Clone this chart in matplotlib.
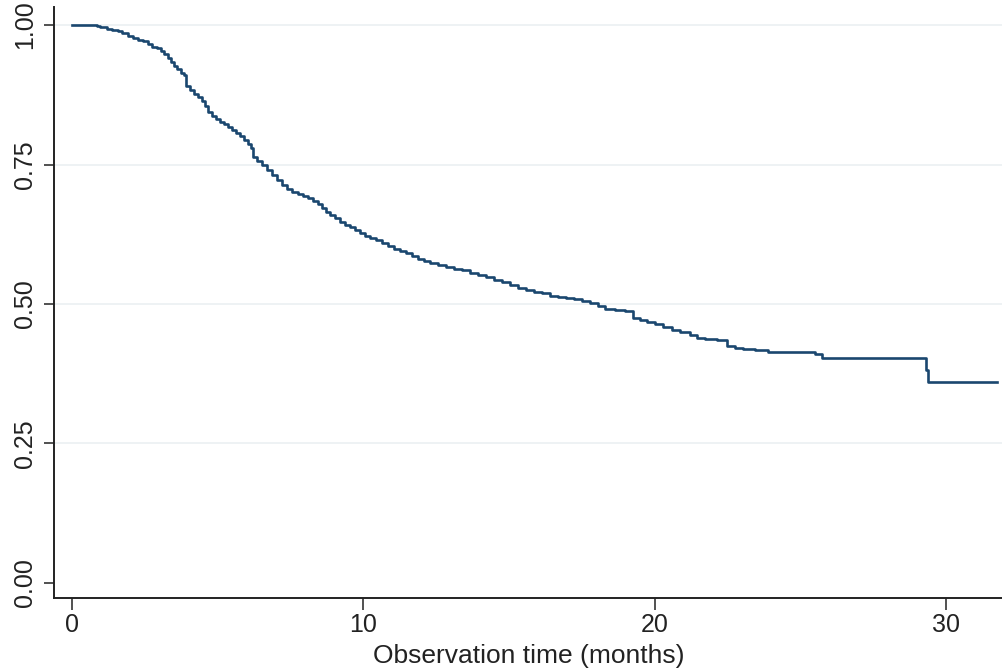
import matplotlib
matplotlib.use("Agg")
import matplotlib.pyplot as plt

# Kaplan-Meier step data (time in months, survival after step)
times = [0, 0.86, 0.96, 1.20, 1.37, 1.58, 1.72, 1.92, 2.09, 2.27, 2.44, 2.61, 2.75,
         2.92, 3.06, 3.16, 3.30, 3.40, 3.50, 3.60, 3.74, 3.85, 3.91, 4.05, 4.19,
         4.33, 4.46, 4.57, 4.67, 4.81, 4.94, 5.08, 5.22, 5.36, 5.49, 5.63, 5.77,
         5.90, 6.04, 6.15, 6.21, 6.35, 6.52, 6.69, 6.87, 7.04, 7.21, 7.38, 7.55,
         7.76, 7.93, 8.10, 8.27, 8.45, 8.58, 8.72, 8.86, 9.03, 9.20, 9.37, 9.54,
         9.72, 9.89, 10.06, 10.23, 10.44, 10.64, 10.85, 11.05, 11.26, 11.47, 11.67,
         11.88, 12.08, 12.29, 12.56, 12.84, 13.11, 13.39, 13.66, 13.94, 14.21,
         14.49, 14.76, 15.04, 15.31, 15.59, 15.86, 16.13, 16.41, 16.68, 16.96,
         17.23, 17.51, 17.78, 18.06, 18.30, 18.64, 18.98, 19.26, 19.50, 19.74,
         20.01, 20.29, 20.60, 20.87, 21.22, 21.46, 21.73, 22.14, 22.49, 22.76,
         23.03, 23.45, 23.89, 25.51, 25.75, 29.32, 29.39]
surv = [1.000, 0.998, 0.996, 0.993, 0.991, 0.989, 0.986, 0.980, 0.977, 0.973,
        0.971, 0.966, 0.961, 0.959, 0.953, 0.948, 0.941, 0.934, 0.927, 0.921,
        0.914, 0.910, 0.891, 0.884, 0.876, 0.871, 0.864, 0.855, 0.844, 0.837,
        0.832, 0.826, 0.823, 0.817, 0.812, 0.806, 0.801, 0.794, 0.787, 0.780,
        0.763, 0.756, 0.749, 0.740, 0.731, 0.722, 0.713, 0.706, 0.701, 0.697,
        0.694, 0.690, 0.685, 0.679, 0.672, 0.665, 0.659, 0.654, 0.647, 0.642,
        0.638, 0.633, 0.627, 0.622, 0.618, 0.615, 0.609, 0.604, 0.599, 0.595,
        0.591, 0.586, 0.581, 0.577, 0.573, 0.570, 0.566, 0.563, 0.561, 0.556,
        0.552, 0.548, 0.543, 0.539, 0.534, 0.529, 0.525, 0.521, 0.520, 0.514,
        0.513, 0.511, 0.509, 0.505, 0.502, 0.496, 0.491, 0.489, 0.487, 0.475,
        0.471, 0.468, 0.464, 0.459, 0.453, 0.450, 0.444, 0.439, 0.437, 0.435,
        0.425, 0.421, 0.419, 0.418, 0.414, 0.410, 0.403, 0.382, 0.360]
end_time = 31.75

xticks = [0, 10, 20, 30]
yticks = [0.0, 0.25, 0.5, 0.75, 1.0]
ytick_labels = ["0.00", "0.25", "0.50", "0.75", "1.00"]
xlabel = "Observation time (months)"

plt.rcParams['font.family'] = ['Liberation Sans', 'DejaVu Sans']

fig = plt.figure(figsize=(10.03, 6.72), dpi=100)
ax = fig.add_axes([54 / 1003, 74 / 672, 1 - 54 / 1003, (598 - 7) / 672])

for y in yticks[1:]:
    ax.axhline(y, color='#e9eff1', lw=1.1, zorder=0)

ax.step(times + [end_time], surv + [surv[-1]], where='post',
        color='#1a476f', lw=1.9, zorder=3)

ax.set_xlim(-0.618, 31.96)
ax.set_ylim(-0.0269, 1.0323)
ax.set_xticks(xticks)
ax.set_yticks(yticks)
ax.set_yticklabels(ytick_labels, rotation=90, va='center')

for s in ['top', 'right']:
    ax.spines[s].set_visible(False)
for s in ['left', 'bottom']:
    ax.spines[s].set_linewidth(1.4)
    ax.spines[s].set_color('#222222')

ax.tick_params(axis='y', length=7.2, width=1.1, pad=5, labelsize=18, colors='#222222')
ax.tick_params(axis='x', length=8.6, width=1.1, pad=2, labelsize=18, colors='#222222')
ax.set_xlabel(xlabel, fontsize=19, labelpad=5, color='#222222')

fig.savefig("out.png", dpi=100, facecolor='white')
